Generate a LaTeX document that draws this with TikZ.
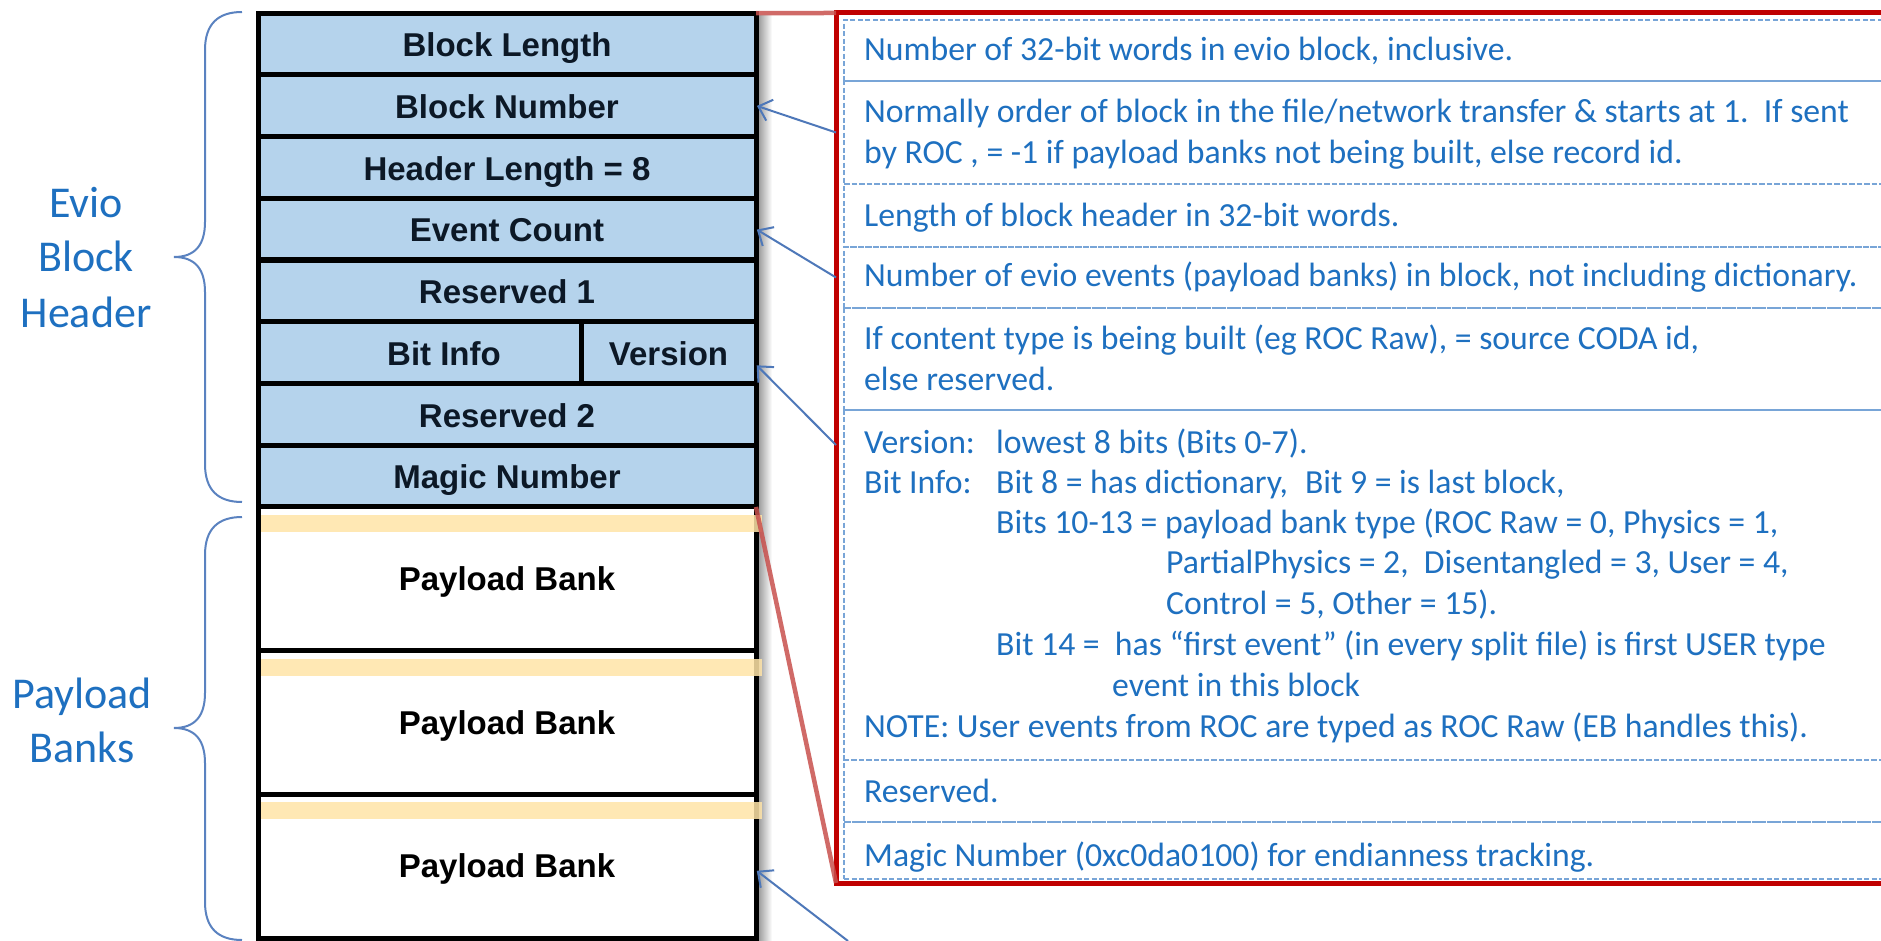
\documentclass[tikz,border=0pt]{standalone}
\usepackage{fontspec}
\setmainfont{Carlito}
\newfontfamily\arialfont{Liberation Sans}
\usetikzlibrary{arrows.meta}
\definecolor{hdrfill}{RGB}{181,211,236}
\definecolor{txtblue}{RGB}{30,112,192}
\definecolor{arrblue}{RGB}{78,120,185}
\definecolor{bracecol}{RGB}{90,130,192}
\definecolor{boxred}{RGB}{192,0,0}
\definecolor{zoomred}{RGB}{200,80,77}
\definecolor{dashblue}{RGB}{120,165,215}
\definecolor{bandyel}{RGB}{255,228,168}
\definecolor{celltxt}{RGB}{12,24,38}
\tikzset{
  cell/.style={draw=black, line width=5pt, minimum width=498pt, inner sep=0pt, outer sep=0pt,
    font=\arialfont\bfseries\fontsize{33}{36}\selectfont, text=celltxt, text height=25.5pt, text depth=0pt},
  hdr/.style={cell, fill=hdrfill, minimum height=61.75pt},
  pay/.style={cell, fill=white, minimum height=143.67pt, text=black, text height=23pt},
  band/.style={fill=bandyel, opacity=0.85},
  desc/.style={anchor=base west, inner sep=0pt, text=txtblue, font=\fontsize{33.7}{41}\selectfont},
  rowbox/.style={draw=dashblue, line width=1.3pt, dash pattern=on 5pt off 2.5pt, anchor=north west,
    minimum width=1100pt, inner sep=0pt, outer sep=0pt},
  redbox/.style={draw=boxred, line width=5pt, anchor=north west, minimum width=1200pt,
    minimum height=870pt, inner sep=0pt, outer sep=0pt},
  zoomline/.style={draw=zoomred, line width=4.5pt, opacity=0.85},
  ptr/.style={draw=arrblue, line width=2pt, shorten >=1pt, -{Straight Barb[length=12pt,width=22pt]}},
  bracepath/.style={draw=bracecol, line width=2pt},
  grp/.style={text=txtblue, anchor=base, inner sep=0pt, font=\fontsize{44}{54}\selectfont},
}
\begin{document}
\begin{tikzpicture}[x=1pt,y=-1pt]
\useasboundingbox (0,0) rectangle (1881,941);
\clip (0,0) rectangle (1881,941);
\fill[white] (0,0) rectangle (1881,941);

% shadow right of the structure
\shade[left color=black!40, right color=white] (758,16) rectangle (772,941);

% header rows
\node[hdr] (blen) at (507,43.9) {Block Length};
\node[hdr] (bnum) at (507,105.6) {Block Number};
\node[hdr] (hlen) at (507,167.4) {Header Length = 8};
\node[hdr] (ecnt) at (507,229.1) {Event Count};
\node[hdr] (res1) at (507,290.9) {Reserved 1};
\node[hdr, minimum width=323pt] (binfo) at (419.5,352.6) {};
\node[hdr, minimum width=175pt] (ver) at (668.5,352.6) {Version};
\node[anchor=base, inner sep=0pt, font=\arialfont\bfseries\fontsize{33}{36}\selectfont, text=celltxt] (binfotxt) at (444,365.3) {Bit Info};
\node[hdr] (res2) at (507,414.4) {Reserved 2};
\node[hdr] (magic) at (507,476.1) {Magic Number};

% payload banks
\node[pay] (pay1) at (507,578.8) {Payload Bank};
\node[pay] (pay2) at (507,722.5) {Payload Bank};
\node[pay] (pay3) at (507,866.2) {Payload Bank};
\fill[band] (261,515) rectangle (762,532);
\fill[band] (261,659) rectangle (762,676);
\fill[band] (261,802) rectangle (762,819);

% braces
\draw[bracepath] (242,12) .. controls (218,12) and (205,24) .. (205,50) -- (205,222)
  .. controls (205,245) and (195,257) .. (174,257)
  .. controls (195,257) and (205,269) .. (205,292) -- (205,464)
  .. controls (205,490) and (218,502) .. (242,502);
\draw[bracepath] (242,517) .. controls (218,517) and (205,529) .. (205,555) -- (205,693)
  .. controls (205,716) and (195,728) .. (174,728)
  .. controls (195,728) and (205,740) .. (205,763) -- (205,902)
  .. controls (205,928) and (218,940) .. (242,940);
\node[grp] (ev1) at (86,218) {Evio};
\node[grp] (ev2) at (86,272) {Block};
\node[grp] (ev3) at (86,327) {Header};
\node[grp] (pb1) at (82,708) {Payload};
\node[grp] (pb2) at (82,762) {Banks};

% description rows
\node[rowbox, minimum height=61pt] (r1) at (844,20) {};
\node[rowbox, minimum height=103pt] (r2) at (844,81) {};
\node[rowbox, minimum height=63pt] (r3) at (844,184) {};
\node[rowbox, minimum height=61pt] (r4) at (844,247) {};
\node[rowbox, minimum height=102pt] (r5) at (844,308) {};
\node[rowbox, minimum height=350pt] (r6) at (844,410) {};
\node[rowbox, minimum height=62pt] (r7) at (844,760) {};
\node[rowbox, minimum height=57pt] (r8) at (844,822) {};
\node[redbox] (dbox) at (836,13) {};

% zoom lines
\draw[zoomline] (blen.north east) -- (dbox.north west);
\draw[zoomline] (pay1.north east) -- (dbox.south west);

% description text
\node[desc] (d1) at (864,61) {Number of 32-bit words in evio block, inclusive.};
\node[desc] (d2) at (864,123) {Normally order of block in the file/network transfer \& starts at 1.\ \ If sent};
\node[desc] (d3) at (864,164) {by ROC , = -1 if payload banks not being built, else record id.};
\node[desc] (d4) at (864,227) {Length of block header in 32-bit words.};
\node[desc] (d5) at (864,287) {Number of evio events (payload banks) in block, not including dictionary.};
\node[desc] (d6) at (864,349) {If content type is being built (eg ROC Raw), = source CODA id,};
\node[desc] (d7) at (864,390) {else reserved.};
\node[desc] (d8) at (864,453) {\makebox[132pt][l]{Version:}lowest 8 bits (Bits 0-7).};
\node[desc] (d9) at (864,493) {\makebox[132pt][l]{Bit Info:}Bit 8 = has dictionary,\hspace{17pt}Bit 9 = is last block,};
\node[desc] (d10) at (996,533) {Bits 10-13 = payload bank type (ROC Raw = 0, Physics = 1,};
\node[desc] (d11) at (1166,573) {PartialPhysics = 2,\ \ Disentangled = 3, User = 4,};
\node[desc] (d12) at (1166,614) {Control = 5, Other = 15).};
\node[desc] (d13) at (996,655) {Bit 14 =\ \ has “first event” (in every split file) is first USER type};
\node[desc] (d14) at (1112,696) {event in this block};
\node[desc] (d15) at (864,737) {NOTE: User events from ROC are typed as ROC Raw (EB handles this).};
\node[desc] (d16) at (864,802) {Reserved.};
\node[desc] (d17) at (864,866) {Magic Number (0xc0da0100) for endianness tracking.};

% pointers
\draw[ptr] (dbox.west |- r2.west) -- (bnum.east);
\draw[ptr] (dbox.west |- r4.west) -- (ecnt.east);
\draw[ptr] ([yshift=-35pt]dbox.west |- r6.north) -- ([yshift=-12pt]ver.east);
\coordinate (pbsrc) at (848,941);
\draw[ptr] (pbsrc) -- ([yshift=-4pt]pay3.east);
\end{tikzpicture}
\end{document}
